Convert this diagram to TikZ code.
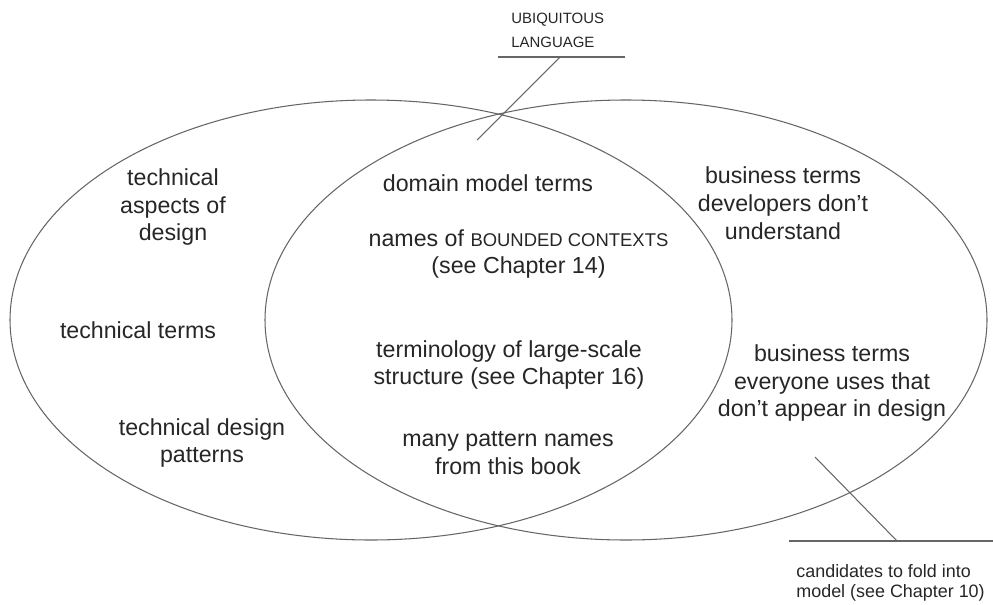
\documentclass[tikz,border=0pt]{standalone}
\usepackage{fontspec}
\setmainfont{Liberation Sans}
\newcommand{\smcaps}[1]{{\fontsize{10.5}{12}\selectfont #1}}
\begin{document}
\begin{tikzpicture}[line width=0.6pt]
    \useasboundingbox (0,0) rectangle (19.86,12.08);
    \begin{scope}[draw=black!60]
    \draw (7.42,5.68) ellipse [x radius=7.22, y radius=4.40];
    \draw (12.52,5.68) ellipse [x radius=7.22, y radius=4.40];
    \end{scope}
    \begin{scope}[every node/.style={align=center,text=black!85,font=\fontsize{13.2}{15.9}\selectfont}]
    \node (aspects) at (3.46,7.94) {technical\\aspects of\\design};
    \node (techterms) at (2.76,5.48) {technical terms};
    \node (techpatterns) at (4.04,3.22) {technical design\\patterns};
    \node (domain) at (9.76,8.42) {domain model terms};
    \node (contexts) at (10.37,7.00) {names of \smcaps{BOUNDED CONTEXTS}\\(see Chapter 14)};
    \node (largescale) at (10.18,4.78) {terminology of large-scale\\structure (see Chapter 16)};
    \node (patterns) at (10.16,3.02) {many pattern names\\from this book};
    \node (bizdev) at (15.66,8.02) {business terms\\developers don't\\understand};
    \node (bizall) at (16.64,4.42) {business terms\\everyone uses that\\don't appear in design};
    \end{scope}
    \node (ubiq) [anchor=west,align=left,text=black!85,font=\fontsize{8.5}{13.6}\selectfont] at (10.10,11.48) {UBIQUITOUS\\LANGUAGE};
    \node (fold) [anchor=west,align=left,text=black!85,font=\fontsize{10.2}{11.3}\selectfont] at (15.80,0.42) {candidates to fold into\\model (see Chapter 10)};
    \coordinate (ubiqL) at (9.96,10.94);
    \coordinate (ubiqR) at (12.50,10.94);
    \coordinate (ubiqJ) at (11.20,10.94);
    \coordinate (ubiqE) at (9.54,9.28);
    \coordinate (foldL) at (15.78,1.26);
    \coordinate (foldR) at (19.86,1.26);
    \coordinate (foldJ) at (17.94,1.26);
    \coordinate (foldE) at (16.30,2.94);
    \begin{scope}[every edge/.style={draw=black!60}]
    \path (ubiqL) edge (ubiqR)
          (ubiqJ) edge (ubiqE)
          (foldL) edge (foldR)
          (foldJ) edge (foldE);
    \end{scope}
\end{tikzpicture}
\end{document}
